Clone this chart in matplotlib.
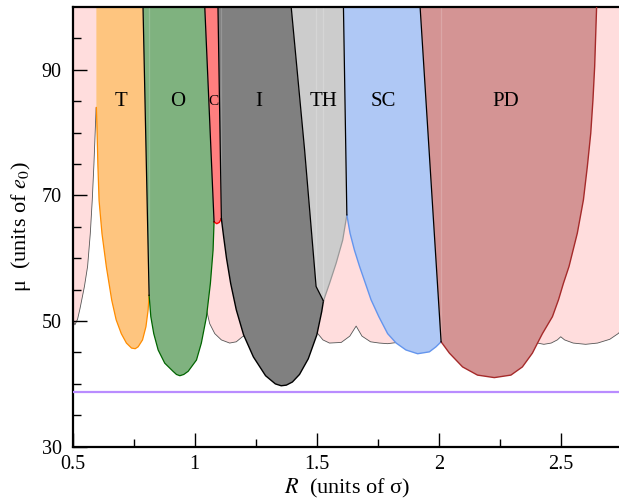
import matplotlib
matplotlib.use("Agg")
import matplotlib.pyplot as plt

plt.rcParams['font.family'] = ['Liberation Serif', 'DejaVu Serif']
plt.rcParams['mathtext.fontset'] = 'stix'

# ---------------- data (R in units of sigma, mu in units of e0) ----------------
# pink background phase: lower boundary (top is the plot top)
pink_R = [0.48, 0.50, 0.509, 0.52, 0.530, 0.548, 0.561, 0.572, 0.580, 0.587, 0.592, 0.596,
          0.80, 1.048, 1.061, 1.082, 1.109, 1.143, 1.170, 1.195, 1.35,
          1.504, 1.525, 1.552, 1.600, 1.635, 1.661, 1.685, 1.720, 1.756, 1.790, 1.83,
          2.0, 2.2, 2.404, 2.430, 2.460, 2.485, 2.499, 2.515, 2.550, 2.601, 2.650, 2.700,
          2.734, 2.76]
pink_mu = [52.5, 50.2, 49.4, 50.3, 52.0, 55.5, 58.7, 63.9, 69.2, 75.0, 80.0, 84.0,
           70.0, 51.8, 49.6, 48.0, 47.0, 46.5, 46.7, 47.5, 50.0,
           48.0, 47.0, 46.5, 46.6, 47.6, 49.2, 47.6, 46.7, 46.5, 46.4, 46.6,
           55.0, 50.0, 46.5, 46.3, 46.5, 47.0, 47.5, 47.0, 46.5, 46.3, 46.5, 47.1,
           48.0, 49.0]

# T phase
T_R = [0.597, 0.597, 0.600, 0.603, 0.608, 0.620, 0.638, 0.660, 0.678, 0.699, 0.720,
       0.741, 0.756, 0.768, 0.786, 0.800, 0.809, 0.813, 0.788]
T_mu = [100, 84.0, 80.0, 75.0, 69.2, 63.9, 58.6, 53.3, 50.2, 48.0, 46.5,
        45.7, 45.6, 45.9, 47.0, 49.1, 51.8, 54.1, 100]

# O phase
O_R = [0.788, 0.813, 0.820, 0.832, 0.850, 0.877, 0.911, 0.925, 0.939, 0.955, 0.973,
       1.007, 1.027, 1.048, 1.064, 1.075, 1.079, 1.041]
O_mu = [100, 54.1, 50.7, 48.0, 45.4, 43.3, 42.0, 41.5, 41.3, 41.5, 42.0,
        43.8, 46.5, 50.7, 56.0, 61.3, 65.8, 100]

# C phase
C_R = [1.041, 1.079, 1.090, 1.100, 1.109, 1.095]
C_mu = [100, 65.8, 65.5, 65.7, 66.3, 100]

# I phase
I_R = [1.095, 1.109, 1.118, 1.130, 1.147, 1.170, 1.200, 1.240, 1.290, 1.330, 1.354,
       1.375, 1.400, 1.429, 1.465, 1.500, 1.520, 1.527, 1.497, 1.450, 1.395]
I_mu = [100, 66.3, 63.5, 60.0, 56.0, 51.8, 47.8, 44.3, 41.3, 40.0, 39.7,
        39.8, 40.3, 41.5, 44.0, 47.8, 51.5, 53.2, 55.5, 77.2, 100]

# TH phase
TH_R = [1.395, 1.609, 1.623, 1.606, 1.579, 1.552, 1.527, 1.497, 1.450]
TH_mu = [100, 100, 66.9, 62.9, 59.2, 56.0, 53.2, 55.5, 77.2]

# SC phase
SC_R = [1.609, 1.923, 2.009, 1.988, 1.961, 1.913, 1.865, 1.825, 1.790, 1.754, 1.722,
        1.699, 1.675, 1.654, 1.636, 1.623]
SC_mu = [100, 100, 46.7, 45.9, 45.1, 44.8, 45.4, 46.5, 48.0, 50.7, 53.4,
         56.0, 58.7, 61.3, 64.0, 66.9]

# PD phase
PD_R = [1.923, 2.646, 2.638, 2.631, 2.622, 2.608, 2.592, 2.567, 2.533, 2.510, 2.490,
        2.465, 2.424, 2.404, 2.383, 2.342, 2.295, 2.227, 2.158, 2.097, 2.043, 2.009]
PD_mu = [100, 100, 90.5, 85.2, 79.9, 74.6, 69.3, 64.0, 58.7, 56.0, 53.4,
         50.7, 48.0, 46.5, 44.9, 42.7, 41.4, 41.0, 41.4, 42.7, 44.9, 46.7]

# horizontal reference level
mu_line = 38.7

labels = ['T', 'O', 'C', 'I', 'TH', 'SC', 'PD']
label_R = [0.697, 0.932, 1.075, 1.262, 1.526, 1.772, 2.275]
label_mu = 84.9

x_ticks = [0.5, 1, 1.5, 2, 2.5]
x_tick_labels = ['0.5', '1', '1.5', '2', '2.5']
y_ticks = [30, 50, 70, 90]

# ---------------- figure ----------------
fig = plt.figure(figsize=(6.19, 5.0), dpi=100)
ax = fig.add_axes([72.7 / 619, 53.3 / 500, (622 - 72.7) / 619, 439.7 / 500])
xmax = 0.5 + (622 - 72.7) / 244.6
ax.set_xlim(0.5, xmax)
ax.set_ylim(30, 100)

# pink background
ax.fill(pink_R + [pink_R[-1], pink_R[0]], pink_mu + [100, 100],
        color='#FFDDDD', lw=0, zorder=1)
ax.plot(pink_R, pink_mu, color='#555555', lw=0.6, zorder=1.5)

regions = [
    (T_R, T_mu, '#FEC57F'),
    (O_R, O_mu, '#7FB27F'),
    (C_R, C_mu, '#FF7F7F'),
    (I_R, I_mu, '#808080'),
    (TH_R, TH_mu, '#CCCCCC'),
    (SC_R, SC_mu, '#AFC8F5'),
    (PD_R, PD_mu, '#D49494'),
]
for R, mu, fc in regions:
    ax.fill(R, mu, color=fc, lw=0, zorder=2)

# faint seams inside some fills (as in the original rendering)
seam_kw = dict(color='white', alpha=0.18, lw=0.9, zorder=2.5)
ax.plot([O_R[1], O_R[1]], [O_mu[1], 100], **seam_kw)
ax.plot([C_R[4], C_R[4]], [C_mu[4], 100], **seam_kw)
ax.plot([TH_R[7], TH_R[7]], [TH_mu[7], 100], **seam_kw)
ax.plot([TH_R[6], TH_R[6]], [TH_mu[6], 100], **seam_kw)
ax.plot([PD_R[-1], PD_R[-1]], [PD_mu[-1], 100], **seam_kw)

# lower (coloured) boundaries
ax.plot(T_R[1:18], T_mu[1:18], color='darkorange', lw=0.9, zorder=3)
ax.plot(O_R[1:17], O_mu[1:17], color='darkgreen', lw=0.9, zorder=3)
ax.plot(C_R[1:5], C_mu[1:5], color='red', lw=1.0, zorder=3)
ax.plot(I_R[1:18], I_mu[1:18], color='black', lw=1.0, zorder=3)
ax.plot(TH_R[2:7], TH_mu[2:7], color='#999999', lw=0.9, zorder=3)
ax.plot(SC_R[2:], SC_mu[2:], color='cornflowerblue', lw=1.0, zorder=3)
ax.plot(PD_R[1:], PD_mu[1:], color='brown', lw=1.0, zorder=3)

# black separators between neighbouring phases
ax.plot([T_R[-1], T_R[-2]], [T_mu[-1], T_mu[-2]], color='black', lw=0.9, zorder=4)
ax.plot([O_R[-1], O_R[-2]], [O_mu[-1], O_mu[-2]], color='black', lw=0.9, zorder=4)
ax.plot([C_R[-1], C_R[-2]], [C_mu[-1], C_mu[-2]], color='black', lw=0.9, zorder=4)
ax.plot(I_R[-4:], I_mu[-4:], color='black', lw=0.9, zorder=4)
ax.plot(TH_R[1:3], TH_mu[1:3], color='black', lw=0.9, zorder=4)
ax.plot([SC_R[1], SC_R[2]], [SC_mu[1], SC_mu[2]], color='black', lw=0.9, zorder=4)

ax.axhline(mu_line, color='#B98CFF', lw=1.6, zorder=5)

for lab, r in zip(labels, label_R):
    ax.text(r, label_mu, lab, ha='center', va='center',
            fontsize=11 if lab == 'C' else 15, zorder=6)

# axes styling
for s in ['left', 'bottom', 'top']:
    ax.spines[s].set_linewidth(1.6)
ax.spines['right'].set_visible(False)
ax.set_xticks(x_ticks)
ax.set_xticklabels(x_tick_labels)
ax.set_xticks([0.75, 1.25, 1.75, 2.25, 2.75], minor=True)
ax.set_yticks(y_ticks)
ax.set_yticks([35, 40, 45, 55, 60, 65, 75, 80, 85, 95], minor=True)
ax.tick_params(which='major', direction='in', length=10, width=1.0, labelsize=14.5)
ax.tick_params(axis='x', which='major', pad=6)
ax.tick_params(axis='y', which='major', pad=8)
ax.tick_params(which='minor', direction='in', length=5.5, width=1.0)
ax.tick_params(top=False, right=False, which='both')

ax.set_xlabel(r'$R$  (units of σ)', fontsize=16, labelpad=2)
ax.set_ylabel(r'μ  (units of $e_0$)', fontsize=16, labelpad=6)

fig.savefig('out.png', dpi=100)
